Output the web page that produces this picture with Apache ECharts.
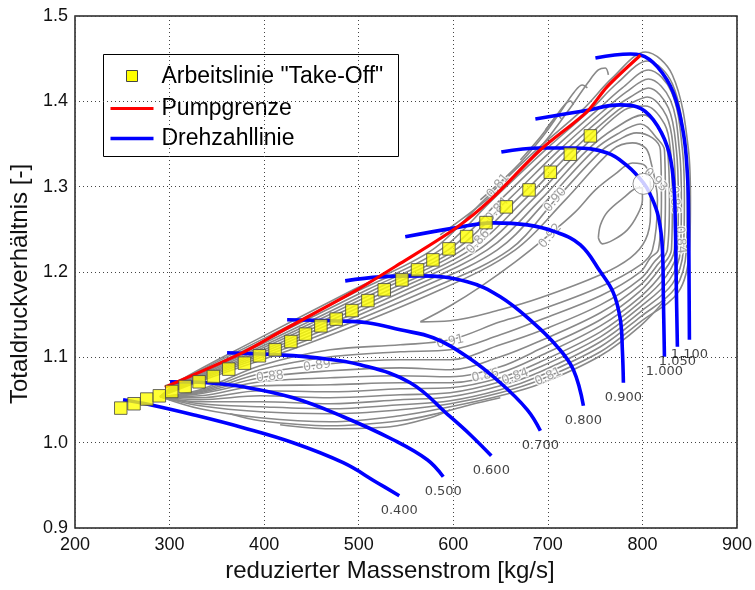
<!DOCTYPE html>
<html>
<head>
<meta charset="utf-8">
<script src="https://cdn.jsdelivr.net/npm/echarts@6/dist/echarts.min.js"></script>
<style>
  html, body { margin: 0; padding: 0; background: #fff; }
  #chart { width: 755px; height: 590px; }
</style>
</head>
<body>
<div id="chart"></div>
<script>
// ---- Operating line "Take-Off" ----
const takeOffMassFlow = [248.4, 262.4, 275.9, 289.2, 302.3, 316.4, 331.2, 346.3, 362.6, 379.2,
  395.0, 411.6, 428.3, 443.7, 460.0, 476.2, 492.8, 509.7, 527.0, 545.7,
  562.2, 578.5, 595.4, 614.1, 634.6, 656.1, 680.1, 702.6, 723.8, 745.0];
const takeOffRatio = [1.0405, 1.0456, 1.0511, 1.0549, 1.0600, 1.0658, 1.0713, 1.0775, 1.0862, 1.0932,
  1.1018, 1.1088, 1.1185, 1.1272, 1.1369, 1.1448, 1.1548, 1.1665, 1.1791, 1.1908,
  1.2025, 1.2142, 1.2271, 1.2415, 1.2579, 1.2763, 1.2962, 1.3169, 1.3380, 1.3595];

// ---- Surge line (Pumpgrenze) ----
const surgeMassFlow = [295, 374.6, 420.4, 498.1, 543.9, 602.1, 639.2, 692, 741.5, 762.6, 797.9];
const surgeRatio = [1.065, 1.104, 1.132, 1.179, 1.210, 1.251, 1.2845, 1.343, 1.388, 1.417, 1.454];

// ---- Speed lines (Drehzahllinien), [mass flow, pressure ratio] ----
const speed040 = [[250.8,1.0503],[279.4,1.0444],[324.9,1.0327],[377.8,1.0175],[430.7,0.9999],[483.6,0.9765],[519.6,0.9531],[542.9,0.9378]];
const speed050 = [[300.5,1.0713],[339.7,1.0702],[377.8,1.0655],[430.7,1.0526],[483.6,1.0304],[536.5,1.0034],[572.5,0.9800],[589.4,0.9601]];
const speed060 = [[360.8,1.1053],[413.8,1.1030],[456.1,1.0994],[501.6,1.0913],[554.5,1.0702],[596.8,1.0304],[618.0,1.0093],[640.2,0.9847]];
const speed070 = [[424.3,1.1440],[473.0,1.1428],[509.0,1.1405],[543.9,1.1322],[578.8,1.1229],[614.8,1.1006],[649.7,1.0702],[678.3,1.0385],[692.1,1.0140]];
const speed080 = [[485.7,1.1896],[522.8,1.1943],[565.1,1.1955],[614.8,1.1885],[649.7,1.1709],[684.7,1.1404],[710.1,1.1123],[727.0,1.0854],[737.6,1.0432]];
const speed090 = [[549.2,1.2412],[602.1,1.2517],[642.3,1.2576],[678.3,1.2552],[707.9,1.2470],[734.4,1.2318],[755.6,1.2002],[769.3,1.1756],[776.7,1.1440],[778.8,1.1088],[779.9,1.0702]];
const speed100 = [[650.8,1.3407],[692.1,1.3454],[727.0,1.3454],[763.0,1.3395],[784.1,1.3243],[801.1,1.3044],[808.5,1.2904],[816.9,1.2646],[821.2,1.2259],[822.2,1.1674],[823.3,1.1006]];
const speed105 = [[686.8,1.3794],[737.6,1.3887],[776.7,1.3958],[794.7,1.3934],[811.6,1.3782],[826.4,1.3466],[832.8,1.3079],[834.9,1.2494],[835.9,1.1791],[837.0,1.1123]];
const speed110 = [[750.3,1.4508],[787.3,1.4555],[797.9,1.4543],[815.9,1.4403],[832.8,1.4098],[843.3,1.3630],[847.5,1.3161],[848.7,1.2728],[849.7,1.1205]];
const speedNames = ['0.400', '0.500', '0.600', '0.700', '0.800', '0.900', '1.000', '1.050', '1.100'];

// ---- Design point ----
const designMassFlow = [801.1];
const designRatio = [1.3033];

// ---- Efficiency contours, [mass flow, pressure ratio] ----
const eta081 = [[289.9,1.0538],[312.2,1.0737],[391.5,1.1205],[494.2,1.1791],[577.8,1.2259],[632.8,1.2845],[687.8,1.3431],[736.5,1.3899],
  [768.2,1.4274],[803.2,1.4578],[831.7,1.4309],[848.7,1.3431],[850.8,1.2845],[849.7,1.2259],[838.1,1.1767],
  [797.9,1.1416],[755.6,1.1065],[692.1,1.0737],[649.7,1.0585],[596.8,1.0456],[543.9,1.0385],[469.8,1.0339],[395.8,1.0362],[332.3,1.0432],[289.9,1.0538]];
const eta082 = [[289.9,1.0538],[314.3,1.0737],[396.8,1.1205],[501.6,1.1791],[586.2,1.2259],[641.3,1.2845],[697.4,1.3431],[745.0,1.3899],
  [773.5,1.4215],[805.3,1.4473],[831.7,1.4204],[845.4,1.3431],[847.5,1.2845],[846.5,1.2259],[834.9,1.1814],
  [797.9,1.1475],[755.6,1.1124],[692.1,1.0784],[649.7,1.0620],[596.8,1.0491],[543.9,1.0444],[469.8,1.0397],[395.8,1.0421],[332.3,1.0456],[289.9,1.0538]];
const eta083 = [[289.9,1.0538],[316.4,1.0737],[402.1,1.1205],[509.0,1.1791],[594.7,1.2259],[649.7,1.2845],[704.8,1.3431],[752.4,1.3899],
  [778.8,1.4157],[806.4,1.4368],[830.7,1.4110],[842.3,1.3431],[844.4,1.2845],[843.3,1.2259],[831.7,1.1861],
  [797.9,1.1533],[755.6,1.1182],[692.1,1.0831],[649.7,1.0667],[596.8,1.0538],[543.9,1.0503],[469.8,1.0456],[395.8,1.0479],[332.3,1.0479],[289.9,1.0538]];
const eta084 = [[289.9,1.0538],[318.5,1.0737],[407.4,1.1205],[516.4,1.1791],[602.1,1.2259],[658.2,1.2845],[712.2,1.3431],[759.8,1.3899],
  [783.1,1.4110],[806.4,1.4262],[829.6,1.4016],[839.1,1.3431],[841.2,1.2845],[840.2,1.2259],[828.6,1.1908],
  [797.9,1.1592],[755.6,1.1240],[692.1,1.0889],[649.7,1.0713],[596.8,1.0585],[543.9,1.0561],[469.8,1.0526],[395.8,1.0549],[332.3,1.0503],[289.9,1.0538]];
const eta085 = [[289.9,1.0538],[320.6,1.0737],[412.7,1.1205],[523.8,1.1791],[609.5,1.2259],[666.7,1.2845],[719.6,1.3431],[767.2,1.3899],
  [787.3,1.4051],[806.4,1.4157],[827.5,1.3922],[835.9,1.3431],[838.0,1.2845],[837.0,1.2259],[825.4,1.1955],
  [797.9,1.1650],[755.6,1.1299],[692.1,1.0948],[649.7,1.0760],[596.8,1.0643],[543.9,1.0631],[469.8,1.0596],[395.8,1.0608],[332.3,1.0526],[289.9,1.0538]];
const eta086 = [[289.9,1.0538],[322.8,1.0737],[418.0,1.1205],[532.3,1.1791],[618.0,1.2259],[675.1,1.2845],[727.0,1.3431],[774.6,1.3899],
  [790.5,1.3993],[805.3,1.4051],[825.4,1.3829],[832.8,1.3431],[834.9,1.2845],[833.8,1.2259],[822.2,1.2002],
  [797.9,1.1709],[755.6,1.1369],[692.1,1.1018],[649.7,1.0819],[596.8,1.0702],[543.9,1.0702],[469.8,1.0678],[395.8,1.0667],[332.3,1.0549],[289.9,1.0538]];
const eta087 = [[289.9,1.0538],[324.9,1.0737],[424.3,1.1205],[540.7,1.1791],[626.5,1.2259],[683.6,1.2845],[734.4,1.3431],[781.0,1.3899],
  [803.2,1.3946],[823.3,1.3735],[829.6,1.3431],[831.7,1.2845],[830.7,1.2259],[819.0,1.2049],
  [797.9,1.1779],[755.6,1.1440],[692.1,1.1100],[649.7,1.0889],[596.8,1.0772],[543.9,1.0784],[469.8,1.0760],[395.8,1.0713],[332.3,1.0573],[289.9,1.0538]];
const eta088 = [[289.9,1.0538],[327.0,1.0737],[430.7,1.1205],[550.3,1.1791],[636.0,1.2259],[692.1,1.2845],[741.8,1.3431],
  [771.4,1.3688],[801.1,1.3841],[820.1,1.3641],[826.4,1.3431],[828.6,1.2845],[826.4,1.2259],[815.9,1.2084],
  [797.9,1.1849],[755.6,1.1522],[692.1,1.1194],[649.7,1.1006],[596.8,1.0854],[543.9,1.0877],[469.8,1.0842],[395.8,1.0760],[332.3,1.0585],[289.9,1.0538]];
const eta089 = [[289.9,1.0538],[329.1,1.0737],[438.1,1.1205],[560.8,1.1791],[646.6,1.2259],[699.5,1.2845],[749.2,1.3431],
  [773.5,1.3618],[797.9,1.3735],[816.9,1.3548],[823.3,1.3431],[824.3,1.2845],[822.2,1.2259],[812.7,1.2119],
  [797.9,1.1920],[755.6,1.1615],[692.1,1.1311],[649.7,1.1147],[596.8,1.0971],[543.9,1.0971],[469.8,1.0924],[395.8,1.0807],[332.3,1.0596],[289.9,1.0538]];
const eta090 = [[289.9,1.0538],[332.3,1.0737],[446.6,1.1205],[573.5,1.1791],[659.3,1.2259],[708.0,1.2845],[757.7,1.3431],
  [774.6,1.3548],[793.6,1.3630],[810.6,1.3571],[819.0,1.3431],[820.1,1.2845],[816.9,1.2259],[808.5,1.2166],
  [797.9,1.2002],[755.6,1.1721],[692.1,1.1440],[649.7,1.1264],[596.8,1.1088],[543.9,1.1065],[469.8,1.1006],[395.8,1.0854],[332.3,1.0608],[289.9,1.0538]];
const eta091 = [[289.9,1.0538],[336.5,1.0737],[457.1,1.1205],[586.2,1.1791],[665.6,1.2259],[718.5,1.2845],[768.2,1.3431],
  [789.4,1.3513],[803.2,1.3454],[808.5,1.3313],[815.9,1.2845],[810.6,1.2259],
  [797.9,1.2084],[755.6,1.1826],[692.1,1.1557],[649.7,1.1416],[596.8,1.1205],[543.9,1.1147],[469.8,1.1088],[395.8,1.0901],[332.3,1.0620],[289.9,1.0538]];
const eta092 = [[565.1,1.1416],[596.8,1.1604],[628.6,1.1826],[665.6,1.2119],[697.4,1.2400],[729.1,1.2704],[750.3,1.2962],[771.4,1.3149],
  [789.4,1.3278],[803.2,1.3243],[808.5,1.3021],[808.5,1.2669],[803.2,1.2376],[787.3,1.2166],[755.6,1.1967],[692.1,1.1697],
  [649.7,1.1557],[596.8,1.1428],[565.1,1.1416]];
const eta093 = [[753.4,1.2400],[755.6,1.2552],[763.0,1.2704],[779.9,1.2868],[795.8,1.2986],[800.0,1.2986],[800.0,1.2845],
  [794.7,1.2669],[784.1,1.2494],[769.3,1.2376],[757.7,1.2330],[753.4,1.2400]];
// outer contours: lower band and the ends above the surge line
const eta080 = [[289.9,1.0538],[332.3,1.0397],[395.8,1.0292],[469.8,1.0245],[543.9,1.0315],[596.8,1.0421],[649.7,1.0550],[692.1,1.0690],[755.6,1.1018],[797.9,1.1369],[824.3,1.1674]];
const eta079 = [[364.0,1.0339],[395.8,1.0257],[469.8,1.0198],[543.9,1.0257],[586.2,1.0350],[618.0,1.0444],[649.7,1.0526]];
const eta078 = [[416.9,1.0210],[469.8,1.0163],[533.3,1.0186],[575.7,1.0292],[596.8,1.0385]];
const eta080Top = [[586.2,1.2435],[628.6,1.2786],[670.9,1.3196],[702.6,1.3606],[725.9,1.3958],[742.9,1.4227],[753.4,1.4368],[760.8,1.4391],[764.0,1.4309]];
const eta079Top = [[628.6,1.2845],[665.6,1.3220],[694.2,1.3583],[713.2,1.3876],[728.0,1.4110],[736.5,1.4192],[741.8,1.4157]];
const eta078Top = [[670.9,1.3313],[692.1,1.3583],[707.9,1.3817],[718.5,1.3969],[723.8,1.4004],[727.0,1.3958]];
const eta077Top = [[697.4,1.3665],[705.8,1.3782],[711.1,1.3829],[714.3,1.3794]];

// contour level labels
const contourLabelText = ['0.81', '0.84', '0.86', '0.90', '0.92', '0.93', '0.91', '0.86', '0.84', '0.81', '0.89', '0.88', '0.86', '0.84'];
const contourLabelX = [647.6, 646.6, 626.4, 708.0, 702.6, 813.7, 596.8, 633.9, 665.6, 700.5, 456.1, 406.3, 833.8, 840.2];
const contourLabelY = [1.3009, 1.2728, 1.2353, 1.2845, 1.2423, 1.3079, 1.1182, 1.0784, 1.0772, 1.0772, 1.0901, 1.0772, 1.2845, 1.2376];
const contourLabelAngle = [50, 48, 48, 50, 50, -45, 12, 12, 20, 25, 8, 6, -85, -85];

// ---- build series ----
const series = [];
const contours = [eta078, eta079, eta080, eta080Top, eta079Top, eta078Top, eta077Top,
  eta081, eta082, eta083, eta084, eta085, eta086, eta087, eta088, eta089, eta090, eta091, eta092, eta093];
contours.forEach(function (d) {
  series.push({
    type: 'line', data: d, smooth: 0.35, symbol: 'none', silent: true, z: 1,
    lineStyle: { color: '#898989', width: 1.6 }
  });
});

series.push({
  type: 'scatter', silent: true, z: 2, symbolSize: 0,
  data: contourLabelText.map(function (t, i) {
    return { name: t, value: [contourLabelX[i], contourLabelY[i]], label: { rotate: contourLabelAngle[i] } };
  }),
  label: {
    show: true, position: 'inside', formatter: '{b}',
    fontFamily: 'DejaVu Sans', fontSize: 12.5, color: '#8a8a8a',
    textBorderColor: '#fff', textBorderWidth: 2.5
  }
});

const speedLines = [speed040, speed050, speed060, speed070, speed080, speed090, speed100, speed105, speed110];
speedLines.forEach(function (d) {
  series.push({
    type: 'line', data: d, smooth: 0.4, symbol: 'none', z: 3,
    lineStyle: { color: '#0000ff', width: 3.6 }
  });
});

series.push({
  type: 'line', z: 4, smooth: 0.3, symbol: 'none',
  data: surgeMassFlow.map(function (x, i) { return [x, surgeRatio[i]]; }),
  lineStyle: { color: '#ff0000', width: 3.2 }
});

series.push({
  type: 'scatter', z: 5, symbol: 'rect', symbolSize: 12.5,
  data: takeOffMassFlow.map(function (x, i) { return [x, takeOffRatio[i]]; }),
  itemStyle: { color: '#ffff00', borderColor: '#444', borderWidth: 1 }
});

series.push({
  type: 'scatter', z: 6, symbol: 'circle', symbolSize: 21,
  data: designMassFlow.map(function (x, i) { return [x, designRatio[i]]; }),
  itemStyle: { color: '#ffffff', borderColor: '#777', borderWidth: 1 }
});

series.push({
  type: 'scatter', z: 7, symbolSize: 0, silent: true,
  data: speedLines.map(function (d, i) { return { name: speedNames[i], value: d[d.length - 1] }; }),
  label: {
    show: true, position: 'bottom', distance: 8, formatter: '{b}',
    fontFamily: 'DejaVu Sans', fontSize: 13, color: '#111'
  }
});

const chart = echarts.init(document.getElementById('chart'), null, { renderer: 'canvas' });
chart.setOption({
  animation: false,
  backgroundColor: '#fff',
  grid: { left: 75, right: 18, top: 16, bottom: 62, show: true, borderColor: '#222', borderWidth: 1.5, backgroundColor: 'transparent' },
  xAxis: {
    type: 'value', min: 200, max: 900, interval: 100,
    name: 'reduzierter Massenstrom [kg/s]', nameLocation: 'middle', nameGap: 31,
    nameTextStyle: { fontFamily: 'Liberation Sans', fontSize: 24, color: '#111', padding: [0, 32, 0, 0] },
    axisLine: { show: false }, axisTick: { show: false },
    axisLabel: { fontFamily: 'Liberation Sans', fontSize: 18, color: '#111', margin: 8 },
    splitLine: { show: true, lineStyle: { color: '#444', width: 1, type: [1, 3] } }
  },
  yAxis: {
    type: 'value', min: 0.9, max: 1.5, interval: 0.1,
    name: 'Totaldruckverhältnis [-]', nameLocation: 'middle', nameGap: 32,
    nameTextStyle: { fontFamily: 'Liberation Sans', fontSize: 24, color: '#111', padding: [0, 24, 0, 0] },
    axisLine: { show: false }, axisTick: { show: false },
    axisLabel: { fontFamily: 'Liberation Sans', fontSize: 18, color: '#111', margin: 7,
      formatter: function (v) { return v.toFixed(1); } },
    splitLine: { show: true, lineStyle: { color: '#444', width: 1, type: [1, 3] } }
  },
  series: series,
  graphic: [
    { type: 'group', left: 103, top: 54, z: 100, children: [
      { type: 'rect', shape: { x: 0, y: 0, width: 295, height: 102 }, style: { fill: '#fff', stroke: '#000', lineWidth: 1 } },
      { type: 'rect', shape: { x: 23, y: 16, width: 11, height: 11 }, style: { fill: '#ffff00', stroke: '#444', lineWidth: 1 } },
      { type: 'text', x: 58, y: 22, style: { text: 'Arbeitslinie "Take-Off"', font: '23px "Liberation Sans"', fill: '#000', verticalAlign: 'middle' } },
      { type: 'line', shape: { x1: 7, y1: 54, x2: 50, y2: 54 }, style: { stroke: '#ff0000', lineWidth: 3.2 } },
      { type: 'text', x: 58, y: 54, style: { text: 'Pumpgrenze', font: '23px "Liberation Sans"', fill: '#000', verticalAlign: 'middle' } },
      { type: 'line', shape: { x1: 7, y1: 84, x2: 50, y2: 84 }, style: { stroke: '#0000ff', lineWidth: 3.6 } },
      { type: 'text', x: 58, y: 84, style: { text: 'Drehzahllinie', font: '23px "Liberation Sans"', fill: '#000', verticalAlign: 'middle' } }
    ] }
  ]
});
</script>
</body>
</html>
